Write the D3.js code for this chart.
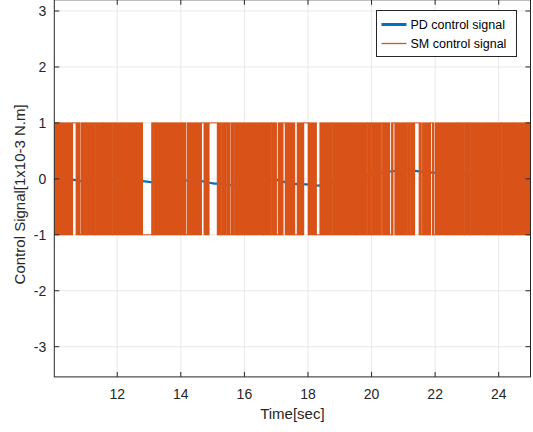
<!DOCTYPE html>
<html>
<head>
<meta charset="utf-8">
<script src="https://cdn.jsdelivr.net/npm/d3@7"></script>
<style>
  html, body { margin: 0; padding: 0; background: #fff; }
  svg { display: block; font-family: "Liberation Sans", Arial, Helvetica, sans-serif; }
</style>
</head>
<body>
<svg id="chart" width="533" height="432"></svg>
<script>
// Axis ticks
const xTicks = [12, 14, 16, 18, 20, 22, 24];
const yTicks = [-3, -2, -1, 0, 1, 2, 3];

// PD control signal (slowly varying)
const pdTime  = [10.02, 10.64, 10.85, 11.32, 12.16, 12.94, 13.09, 14.18, 14.65, 15.01, 15.32, 15.54, 16.2, 16.85, 17.01, 17.22, 17.38, 17.59, 17.95, 18.32, 18.79, 19.56, 19.87, 20.31, 20.73, 21.10, 21.25, 21.57, 21.93, 22.72, 22.96, 24.47, 25.0];
const pdValue = [-0.02, -0.02, -0.04, -0.04, -0.02, -0.05, -0.06, -0.03, -0.04, -0.08, -0.09, -0.11, -0.07, -0.01, -0.02, -0.05, -0.07, -0.09, -0.10, -0.12, -0.07, 0.02, 0.07, 0.11, 0.14, 0.16, 0.15, 0.13, 0.11, 0.10, 0.07, 0.04, 0.03];

// SM control signal: chatters between +1 and -1; these are the intervals
// where it holds one level (no switching) — everything else is chattering.
const smHoldStart = [10.598, 10.827, 11.003, 11.317, 11.553, 11.842, 12.147, 12.798, 13.131, 14.160, 14.653, 14.892, 15.275, 15.432, 15.543, 15.684, 16.605, 16.847, 17.011, 17.218, 17.586, 17.869, 18.268, 18.764, 19.535, 19.868, 19.991, 20.312, 20.573, 20.677, 20.802, 21.122, 21.220, 21.359, 21.569, 21.862, 21.956, 22.713, 22.924, 23.112, 23.656, 24.078, 24.442];
const smHoldEnd   = [10.702, 10.859, 11.013, 11.327, 11.563, 11.852, 12.157, 13.081, 13.141, 14.201, 14.726, 15.144, 15.285, 15.442, 15.575, 15.694, 16.615, 16.857, 17.061, 17.281, 17.659, 18.004, 18.372, 18.774, 19.545, 19.878, 20.001, 20.343, 20.626, 20.730, 20.812, 21.132, 21.230, 21.494, 21.601, 21.915, 21.997, 22.723, 22.934, 23.122, 23.666, 24.088, 24.452];
const smHoldLevel = [1, -1, 1, -1, 1, -1, 1, -1, 1, -1, 1, 1, -1, 1, -1, 1, -1, 1, -1, 1, -1, 1, -1, 1, -1, 1, -1, 1, -1, 1, -1, 1, -1, 1, -1, 1, -1, 1, -1, 1, -1, 1, -1];

const seriesNames = ["PD control signal", "SM control signal"];
const colors = ["#0072BD", "#D95319"];

const svg = d3.select("#chart");
const margin = { left: 54.3, right: 530.5, top: -0.2, bottom: 376.9 };

const x = d3.scaleLinear().domain([10.02, 25.0]).range([margin.left, margin.right]);
const y = d3.scaleLinear().domain([-3.54, 3.2]).range([margin.bottom, margin.top]);

const axisColor = "#262626";
const plotW = margin.right - margin.left;
const plotH = margin.bottom - margin.top;

svg.append("defs").append("clipPath").attr("id", "plotClip")
  .append("rect").attr("x", margin.left).attr("y", margin.top)
  .attr("width", plotW).attr("height", plotH);

// Grid
const grid = svg.append("g").attr("stroke", "#e8e8e8").attr("stroke-width", 1);
xTicks.forEach(t => grid.append("line")
  .attr("x1", x(t)).attr("x2", x(t)).attr("y1", margin.top).attr("y2", margin.bottom));
yTicks.forEach(t => grid.append("line")
  .attr("y1", y(t)).attr("y2", y(t)).attr("x1", margin.left).attr("x2", margin.right));

const plot = svg.append("g").attr("clip-path", "url(#plotClip)");

// PD line (drawn first, underneath)
const pdData = pdTime.map((t, i) => [t, pdValue[i]]);
plot.append("path")
  .datum(pdData)
  .attr("fill", "none")
  .attr("stroke", colors[0])
  .attr("stroke-width", 2.2)
  .attr("d", d3.line().x(d => x(d[0])).y(d => y(d[1])).curve(d3.curveMonotoneX));

// SM signal: chatter segments between holds
const xd = x.domain();
const chatter = [];
let cur = xd[0];
smHoldStart.forEach((s, i) => {
  if (s > cur) chatter.push([cur, s]);
  cur = Math.max(cur, smHoldEnd[i]);
});
if (cur < xd[1]) chatter.push([cur, xd[1]]);

const sm = plot.append("g");
sm.selectAll("rect.chat").data(chatter).enter().append("rect")
  .attr("class", "chat")
  .attr("x", d => x(d[0]) - 0.4)
  .attr("width", d => x(d[1]) - x(d[0]) + 0.8)
  .attr("y", y(1) - 0.5)
  .attr("height", y(-1) - y(1) + 1)
  .attr("fill", colors[1]);

// held levels
sm.selectAll("line.hold").data(smHoldStart).enter().append("line")
  .attr("class", "hold")
  .attr("x1", (d, i) => x(d))
  .attr("x2", (d, i) => x(smHoldEnd[i]))
  .attr("y1", (d, i) => y(smHoldLevel[i]))
  .attr("y2", (d, i) => y(smHoldLevel[i]))
  .attr("stroke", colors[1]).attr("stroke-width", 1);

// Axes box with inward ticks
const ax = svg.append("g").attr("stroke", axisColor).attr("stroke-width", 1).attr("fill", "none");
ax.append("rect").attr("x", margin.left).attr("y", margin.top).attr("width", plotW).attr("height", plotH);
const tl = 5;
xTicks.forEach(t => {
  ax.append("line").attr("x1", x(t)).attr("x2", x(t)).attr("y1", margin.bottom).attr("y2", margin.bottom - tl);
  ax.append("line").attr("x1", x(t)).attr("x2", x(t)).attr("y1", margin.top).attr("y2", margin.top + tl);
});
yTicks.forEach(t => {
  ax.append("line").attr("y1", y(t)).attr("y2", y(t)).attr("x1", margin.left).attr("x2", margin.left + tl);
  ax.append("line").attr("y1", y(t)).attr("y2", y(t)).attr("x1", margin.right).attr("x2", margin.right - tl);
});

// Tick labels
const lbl = svg.append("g").attr("fill", axisColor).attr("font-size", 14);
xTicks.forEach(t => lbl.append("text").attr("x", x(t)).attr("y", margin.bottom + 22)
  .attr("text-anchor", "middle").text(t));
yTicks.forEach(t => lbl.append("text").attr("x", margin.left - 8).attr("y", y(t) + 5)
  .attr("text-anchor", "end").text(t));

// Axis titles
svg.append("text").attr("x", (margin.left + margin.right) / 2).attr("y", 419)
  .attr("text-anchor", "middle").attr("font-size", 15).attr("fill", axisColor).text("Time[sec]");
svg.append("text").attr("transform", `translate(25, ${(y(3.2) + y(-3.54)) / 2 + 6}) rotate(-90)`)
  .attr("text-anchor", "middle").attr("font-size", 15).attr("fill", axisColor)
  .text("Control Signal[1x10-3 N.m]");

// Legend
const lg = svg.append("g");
const lgX = 376.5, lgY = 10.5, lgW = 140, lgH = 46;
lg.append("rect").attr("x", lgX).attr("y", lgY).attr("width", lgW).attr("height", lgH)
  .attr("fill", "#fff").attr("stroke", axisColor).attr("stroke-width", 1);
seriesNames.forEach((name, i) => {
  const yy = lgY + 14 + i * 19;
  lg.append("line").attr("x1", lgX + 5).attr("x2", lgX + 30).attr("y1", yy).attr("y2", yy)
    .attr("stroke", colors[i]).attr("stroke-width", i === 0 ? 3 : 1.3);
  lg.append("text").attr("x", lgX + 34).attr("y", yy + 4.5).attr("font-size", 12.5)
    .attr("fill", "#000").text(name);
});
</script>
</body>
</html>
